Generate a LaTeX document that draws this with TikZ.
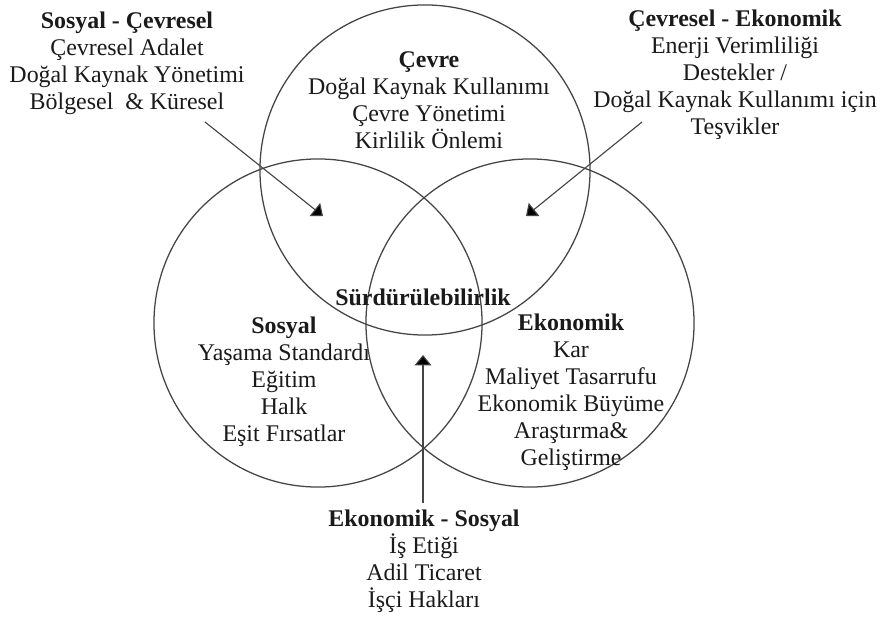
\documentclass[tikz,border=0pt]{standalone}
\usepackage{fontspec}
\setmainfont{Liberation Serif}
\usetikzlibrary{arrows.meta}
\definecolor{linegray}{HTML}{454545}
\definecolor{inkblack}{HTML}{1A1A1A}
\begin{document}
\begin{tikzpicture}[x=0.025cm,y=-0.025cm,
  venn/.style={circle,draw=linegray,line width=0.9pt,inner sep=0pt},
  label/.style={align=center,inner sep=0pt,text=inkblack,
    font=\fontsize{17}{19.2}\selectfont},
  pointer/.style={draw=linegray,line width=0.8pt,
    -{Triangle[width=0.42cm,length=0.26cm,fill=black]}}]
  \useasboundingbox (0,0) rectangle (884,617);
  \fill[white] (0,0) rectangle (884,617);

  % the three overlapping circles
  \node[venn,minimum size=8.25cm] (cevre) at (425,170) {};
  \node[venn,minimum size=8.2cm] (sosyal) at (318,323) {};
  \node[venn,minimum size=8.2cm] (ekonomik) at (530,323) {};

  % texts inside the circles
  \node[label] (tcevre) at (429,100)
    {\textbf{Çevre}\\Doğal Kaynak Kullanımı\\Çevre Yönetimi\\Kirlilik Önlemi};
  \node[label] (tsosyal) at (284,382)
    {\textbf{Sosyal}\\Yaşama Standardı\\Eğitim\\Halk\\Eşit Fırsatlar};
  \node[label] (tekonomik) at (571,392)
    {\textbf{Ekonomik}\\Kar\\Maliyet Tasarrufu\\Ekonomik Büyüme\\Araştırma\&\\Geliştirme};
  \node[label,font=\fontsize{17}{19.2}\selectfont\bfseries] (tsurdur) at (423,297)
    {Sürdürülebilirlik};

  % texts for the pairwise overlaps
  \node[label] (tsc) at (127,63)
    {\textbf{Sosyal - Çevresel}\\Çevresel Adalet\\Doğal Kaynak Yönetimi\\Bölgesel\ \ \& Küresel};
  \node[label] (tce) at (735,75)
    {\textbf{Çevresel - Ekonomik}\\Enerji Verimliliği\\Destekler /\\Doğal Kaynak Kullanımı için\\Teşvikler};
  \node[label] (tes) at (424,561)
    {\textbf{Ekonomik - Sosyal}\\İş Etiği\\Adil Ticaret\\İşçi Hakları};

  % pointer ends
  \coordinate (scfrom) at (205,122);
  \coordinate (scto) at (323,216);
  \coordinate (cefrom) at (642,122);
  \coordinate (ceto) at (526,216);
  \coordinate (esfrom) at (423,503);
  \coordinate (esto) at (423,355);

  \draw[pointer] (scfrom) -- (scto);
  \draw[pointer] (cefrom) -- (ceto);
  \draw[pointer] (esfrom) -- (esto);
\end{tikzpicture}
\end{document}
